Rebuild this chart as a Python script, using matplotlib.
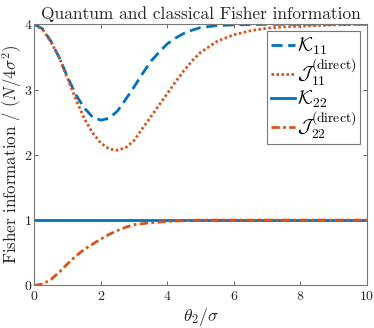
import numpy as np
import matplotlib
matplotlib.use('Agg')
import matplotlib.pyplot as plt

plt.rcParams['font.family'] = 'serif'
plt.rcParams['font.serif'] = ['cmr10']
plt.rcParams['mathtext.fontset'] = 'cm'
plt.rcParams['axes.formatter.use_mathtext'] = True

# values
theta_k11 = [0, 0.25, 0.5, 0.75, 1.0, 1.25, 1.5, 1.75, 2.0, 2.25, 2.5, 2.75, 3.0,
             3.25, 3.5, 3.75, 4.0, 4.25, 4.5, 4.75, 5.0, 5.5, 6.0, 7.0, 8.0, 10.0]
k11 = [4.00, 3.93, 3.74, 3.49, 3.19, 2.92, 2.72, 2.58, 2.53, 2.56, 2.67, 2.85, 3.04,
       3.24, 3.43, 3.57, 3.70, 3.79, 3.86, 3.91, 3.95, 3.98, 3.99, 4.00, 4.00, 4.00]

theta_j11 = [0, 0.25, 0.5, 0.75, 1.0, 1.25, 1.5, 1.75, 2.0, 2.25, 2.5, 2.75, 3.0,
             3.25, 3.5, 3.75, 4.0, 4.25, 4.5, 4.75, 5.0, 5.5, 6.0, 6.5, 7.0, 7.5,
             8.0, 9.0, 10.0]
j11 = [4.00, 3.92, 3.73, 3.49, 3.17, 2.85, 2.56, 2.34, 2.18, 2.09, 2.07, 2.11, 2.22,
       2.40, 2.58, 2.76, 2.94, 3.12, 3.29, 3.44, 3.57, 3.74, 3.84, 3.90, 3.94, 3.96,
       3.97, 3.99, 4.00]

theta_k22 = [0, 10]
k22 = [1, 1]

theta_j22 = [0, 0.25, 0.5, 0.75, 1.0, 1.25, 1.5, 1.75, 2.0, 2.25, 2.5, 2.75, 3.0,
             3.5, 4.0, 4.5, 5.0, 6.0, 10.0]
j22 = [0.00, 0.02, 0.09, 0.20, 0.33, 0.45, 0.55, 0.63, 0.71, 0.78, 0.84, 0.89, 0.93,
       0.96, 0.98, 0.99, 1.00, 1.00, 1.00]

blue = '#0072BD'
orange = '#D95319'

fig = plt.figure(figsize=(3.74, 3.28), dpi=100)
ax = fig.add_axes([0.0917, 0.130, 0.889, 0.796])

ax.plot(theta_k11, k11, color=blue, lw=2, dashes=(4, 2), label=r'$\mathcal{K}_{11}$')
ax.plot(theta_j11, j11, color=orange, lw=2, dashes=(0.9, 0.9),
        label=r'$\mathcal{J}_{11}^{(\mathrm{direct})}$')
ax.plot(theta_k22, k22, color=blue, lw=2, label=r'$\mathcal{K}_{22}$')
ax.plot(theta_j22, j22, color=orange, lw=2, dashes=(3, 1.2, 1, 1.2),
        label=r'$\mathcal{J}_{22}^{(\mathrm{direct})}$')

ax.set_xlim(0, 10)
ax.set_ylim(0, 4)
ax.set_xticks([0, 2, 4, 6, 8, 10])
ax.set_yticks([0, 1, 2, 3, 4])
ax.tick_params(direction='in', top=True, right=True, length=3, width=0.6,
               color='#555555', labelcolor='#262626', labelsize=10)
ax.tick_params(axis='y', pad=1.5)
for s in ax.spines.values():
    s.set_color('#777777')
    s.set_linewidth(0.8)

ax.set_title('Quantum and classical Fisher information', fontsize=12.5,
             color='#262626', pad=4)
ax.set_xlabel(r'$\theta_2/\sigma$', fontsize=12.5, color='#262626', labelpad=2)
ax.set_ylabel(r'Fisher information / $(N/4\sigma^2)$', fontsize=12.2,
              color='#262626')
ax.yaxis.set_label_coords(-0.032, 0.5)

leg = ax.legend(loc='upper right', fontsize=14, handlelength=1.25,
                handletextpad=0.1, borderaxespad=0.35, borderpad=0.2,
                labelspacing=-0.04, fancybox=False, framealpha=1)
leg.get_frame().set_edgecolor('#777777')
leg.get_frame().set_linewidth(0.8)

fig.savefig('out.png', dpi=100)
